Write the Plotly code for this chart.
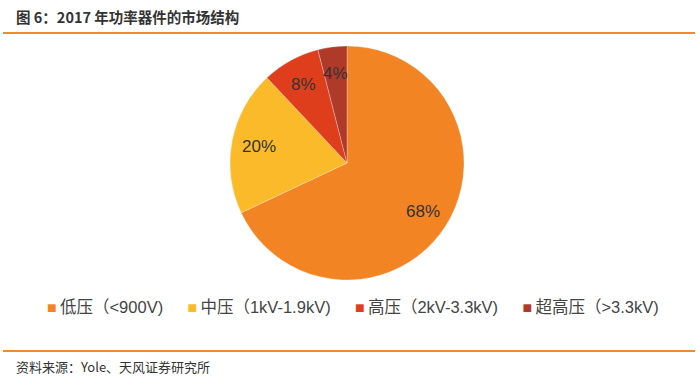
import math
import plotly.graph_objects as go

categories = ["低压（<900V)", "中压（1kV-1.9kV)", "高压（2kV-3.3kV)", "超高压（>3.3kV)"]
values = [68, 20, 8, 4]
colors = ["#F38424", "#FBBA2A", "#DF3E1C", "#B03A2A"]

W, H = 700, 381
cx, cy, r = 347, 163, 117

dom_x = [(cx - r) / W, (cx + r) / W]
dom_y = [1 - (cy + r) / H, 1 - (cy - r) / H]

fig = go.Figure(go.Pie(
    labels=categories, values=values, sort=False, direction="clockwise", rotation=0,
    marker=dict(colors=colors, line=dict(color="rgba(255,255,255,0.45)", width=0.6)),
    textinfo="none",
    domain=dict(x=dom_x, y=dom_y),
    hoverinfo="label+percent",
    showlegend=False,
))

# percentage labels placed along each slice's mid-angle (Excel-like inside labels)
annotations = []
total = sum(values)
cum = 0
for v in values:
    mid = (cum + v / 2) / total * 2 * math.pi
    cum += v
    rr = 0.77
    px = (dom_x[0] + dom_x[1]) / 2 + rr * (r / W) * math.sin(mid)
    py = (dom_y[0] + dom_y[1]) / 2 + rr * (r / H) * math.cos(mid)
    annotations.append(dict(text=f"{round(v / total * 100)}%", xref="paper", yref="paper", x=px, y=py,
                            xanchor="center", yanchor="middle", showarrow=False,
                            font=dict(family="Liberation Sans, Arial", size=17, color="#333333")))

# legend as text line with colored square markers
items = [f"<span style='color:{c};font-size:16px'>■</span>\u2009{lab}" for c, lab in zip(colors, categories)]
legend_text = ("&nbsp;" * 5 + "\u200a").join(items)
annotations.append(dict(text=legend_text, xref="paper", yref="paper", x=353 / W, y=1 - 307 / H,
                        xanchor="center", yanchor="middle", showarrow=False,
                        font=dict(family="Liberation Sans, Noto Sans CJK SC", size=16.5, color="#444444")))

annotations += [
    dict(text="<b>图 6：2017 年功率器件的市场结构</b>", xref="paper", yref="paper", x=14 / W, y=1 - 17 / H,
         xanchor="left", yanchor="middle", showarrow=False,
         font=dict(family="Noto Sans CJK SC", size=14.5, color="#333333")),
    dict(text="资料来源：Yole、天风证券研究所", xref="paper", yref="paper", x=14 / W, y=1 - 366 / H,
         xanchor="left", yanchor="middle", showarrow=False,
         font=dict(family="Noto Sans CJK SC", size=13, color="#333333")),
]

fig.update_layout(
    width=W, height=H, margin=dict(l=0, r=0, t=0, b=0),
    paper_bgcolor="white", plot_bgcolor="white",
    font=dict(family="Liberation Sans, Noto Sans CJK SC, Arial", color="#444444"),
    showlegend=False,
    shapes=[
        dict(type="line", xref="paper", yref="paper", x0=3 / W, x1=695 / W, y0=1 - 33 / H, y1=1 - 33 / H,
             line=dict(color="#F08A2C", width=2)),
        dict(type="line", xref="paper", yref="paper", x0=3 / W, x1=695 / W, y0=1 - 351 / H, y1=1 - 351 / H,
             line=dict(color="#F08A2C", width=2)),
    ],
    annotations=annotations,
)

fig.write_html("out.html", config={"displayModeBar": False},
               post_script="document.body.style.margin='0px';document.body.style.overflow='hidden';")
